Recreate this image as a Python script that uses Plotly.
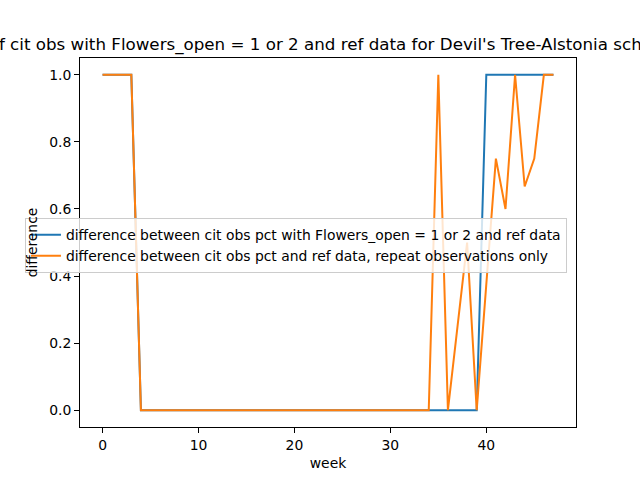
import plotly.graph_objects as go

week = list(range(48))

# blue: flowers_open = 1 or 2 vs ref data
diff_flowers = [1, 1, 1, 1, 0, 0, 0, 0, 0, 0,
                0, 0, 0, 0, 0, 0, 0, 0, 0, 0,
                0, 0, 0, 0, 0, 0, 0, 0, 0, 0,
                0, 0, 0, 0, 0, 0, 0, 0, 0, 0,
                1, 1, 1, 1, 1, 1, 1, 1]

# orange: repeat observations only
diff_repeat = [1, 1, 1, 1, 0, 0, 0, 0, 0, 0,
               0, 0, 0, 0, 0, 0, 0, 0, 0, 0,
               0, 0, 0, 0, 0, 0, 0, 0, 0, 0,
               0, 0, 0, 0, 0, 1, 0, 0.25, 0.5, 0,
               0.38, 0.75, 0.6, 1, 0.667, 0.75, 1, 1]

name_flowers = "difference between cit obs pct with Flowers_open = 1 or 2 and ref data"
name_repeat = "difference between cit obs pct and ref data, repeat observations only"
title = "pct of cit obs with Flowers_open = 1 or 2 and ref data for Devil's Tree-Alstonia scholaris"

fnt = "DejaVu Sans"

fig = go.Figure()
fig.add_trace(go.Scatter(x=week, y=diff_flowers, mode="lines", name=name_flowers,
                         line=dict(color="#1f77b4", width=2)))
fig.add_trace(go.Scatter(x=week, y=diff_repeat, mode="lines", name=name_repeat,
                         line=dict(color="#ff7f0e", width=2)))

axis_style = dict(showgrid=False, zeroline=False, showline=True, linecolor="black",
                  linewidth=1, mirror=True, ticks="outside", ticklen=5, tickwidth=1,
                  tickcolor="black", automargin=False,
                  tickfont=dict(family=fnt, size=13.9, color="black"))

fig.update_xaxes(range=[-2.35, 49.35], tickvals=[0, 10, 20, 30, 40],
                 title=dict(text="week", font=dict(family=fnt, size=13.9, color="black"),
                            standoff=6),
                 **axis_style)
fig.update_yaxes(range=[-0.05, 1.05], tickvals=[0, 0.2, 0.4, 0.6, 0.8, 1.0],
                 tickformat=".1f",
                 title=dict(text="difference", font=dict(family=fnt, size=13.9, color="black"),
                            standoff=8),
                 **axis_style)

fig.update_layout(
    width=640, height=480,
    margin=dict(l=80, r=64, t=58, b=53),
    paper_bgcolor="white", plot_bgcolor="white",
    font=dict(family=fnt, color="black"),
    title=dict(text=title, x=0.488, xref="paper", xanchor="center",
               y=1, yref="paper", yanchor="bottom", pad=dict(b=8),
               font=dict(family=fnt, size=16.7, color="black")),
    legend=dict(x=-0.111, y=0.566, xref="paper", yref="paper",
                xanchor="left", yanchor="top",
                bgcolor="rgba(255,255,255,0.8)", bordercolor="#cccccc", borderwidth=1,
                font=dict(family=fnt, size=13.9, color="black"),
                tracegroupgap=0, itemwidth=30),
    showlegend=True,
)

fig.write_html("out.html", config={"displayModeBar": False},
               post_script="document.body.style.margin='0';")
